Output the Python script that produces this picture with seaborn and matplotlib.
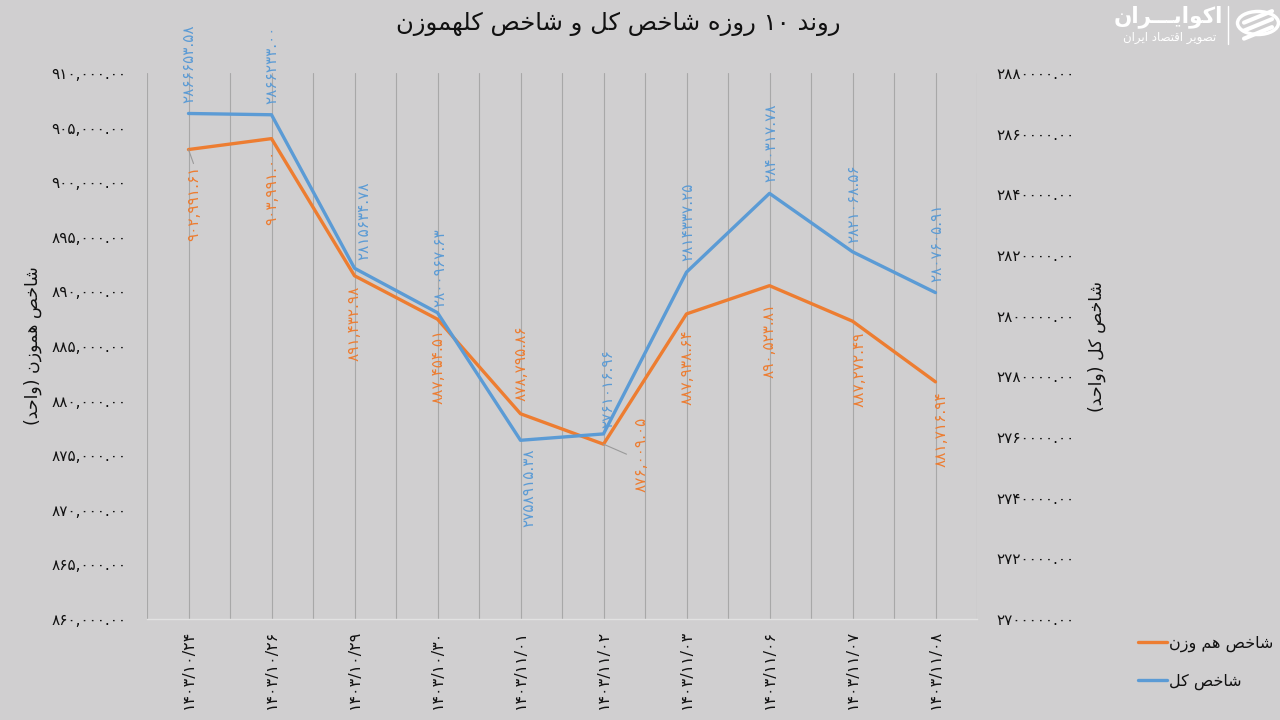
import re
import matplotlib
matplotlib.use("Agg")
import matplotlib.pyplot as plt
import matplotlib.lines as mlines
import matplotlib.patches as mpatches
import pandas as pd
import seaborn as sns

# ---------------- data ----------------
dates = ["1403/10/24", "1403/10/26", "1403/10/29", "1403/10/30", "1403/11/01",
         "1403/11/02", "1403/11/03", "1403/11/06", "1403/11/07", "1403/11/08"]
equal_weight = [902991.61, 903991.00, 891432.98, 887454.51, 878795.86,
                876009.05, 887938.64, 890523.81, 887272.49, 881716.94]
total_index = [2866653.58, 2866233.00, 2815634.78, 2800967.63, 2758915.38,
               2761016.96, 2814337.25, 2840317.78, 2821068.56, 2807605.91]
left_ticks = [860000, 865000, 870000, 875000, 880000, 885000, 890000, 895000, 900000, 905000, 910000]
right_ticks = [2700000, 2720000, 2740000, 2760000, 2780000, 2800000, 2820000, 2840000, 2860000, 2880000]

title_txt = "روند ۱۰ روزه شاخص کل و شاخص کلهموزن"
ylabel_left = "شاخص هموزن (واحد)"
ylabel_right = "شاخص کل (واحد)"
legend_eq = "شاخص هم وزن"
legend_total = "شاخص کل"
logo_main = "اکوایـــران"
logo_sub = "تصویر اقتصاد ایران"

# ---------------- simple Persian shaping ----------------
FORMS = {
    "ا": ("\uFE8D", "\uFE8E", None, None),
    "ب": ("\uFE8F", "\uFE90", "\uFE91", "\uFE92"),
    "پ": ("\uFB56", "\uFB57", "\uFB58", "\uFB59"),
    "ت": ("\uFE95", "\uFE96", "\uFE97", "\uFE98"),
    "ح": ("\uFEA1", "\uFEA2", "\uFEA3", "\uFEA4"),
    "خ": ("\uFEA5", "\uFEA6", "\uFEA7", "\uFEA8"),
    "د": ("\uFEA9", "\uFEAA", None, None),
    "ر": ("\uFEAD", "\uFEAE", None, None),
    "ز": ("\uFEAF", "\uFEB0", None, None),
    "ش": ("\uFEB5", "\uFEB6", "\uFEB7", "\uFEB8"),
    "ص": ("\uFEB9", "\uFEBA", "\uFEBB", "\uFEBC"),
    "ق": ("\uFED5", "\uFED6", "\uFED7", "\uFED8"),
    "ل": ("\uFEDD", "\uFEDE", "\uFEDF", "\uFEE0"),
    "م": ("\uFEE1", "\uFEE2", "\uFEE3", "\uFEE4"),
    "ن": ("\uFEE5", "\uFEE6", "\uFEE7", "\uFEE8"),
    "ه": ("\uFEE9", "\uFEEA", "\uFEEB", "\uFEEC"),
    "و": ("\uFEED", "\uFEEE", None, None),
    "ک": ("\uFB8E", "\uFB8F", "\uFB90", "\uFB91"),
    "ی": ("\uFBFC", "\uFBFD", "\uFBFE", "\uFBFF"),
}
TATWEEL = "\u0640"


def _joins_next(c):
    return c == TATWEEL or (c in FORMS and FORMS[c][2] is not None)


def _is_ar(c):
    return c == TATWEEL or c in FORMS


def shape(text):
    out = []
    n = len(text)
    for i, c in enumerate(text):
        if c not in FORMS:
            out.append(c)
            continue
        prev = text[i - 1] if i > 0 else ""
        nxt = text[i + 1] if i < n - 1 else ""
        pj = prev != "" and _joins_next(prev)
        nj = nxt != "" and _is_ar(nxt) and FORMS[c][2] is not None
        iso, fin, ini, med = FORMS[c]
        if pj and nj:
            out.append(med)
        elif pj:
            out.append(fin)
        elif nj:
            out.append(ini)
        else:
            out.append(iso)
    return "".join(out)


def rtl(text):
    s = shape(text)[::-1]
    s = re.sub(r"[0-9\u06F0-\u06F9][0-9\u06F0-\u06F9.,/]*", lambda m: m.group(0)[::-1], s)
    return s.translate(str.maketrans("()", ")("))


FA = str.maketrans("0123456789", "۰۱۲۳۴۵۶۷۸۹")


def fa(s):
    return s.translate(FA)


# ---------------- style ----------------
BG = "#d0cfd0"
ORANGE = "#ED7D31"
BLUE = "#5B9BD5"
GRID = "#a8a8a8"

sns.set_theme(style="white")
plt.rcParams["font.family"] = ["DejaVu Sans"]
plt.rcParams["axes.unicode_minus"] = False

df = pd.DataFrame({"pos": range(len(dates)), "eq": equal_weight, "tot": total_index})

fig = plt.figure(figsize=(12.8, 7.2), dpi=100, facecolor=BG)
ax = fig.add_axes([147 / 1280, 1 - 619 / 720, 830 / 1280, 546 / 720])
ax.set_facecolor(BG)
ax2 = ax.twinx()

sns.lineplot(data=df, x="pos", y="eq", ax=ax, color=ORANGE, lw=2.4, zorder=3)
sns.lineplot(data=df, x="pos", y="tot", ax=ax2, color=BLUE, lw=2.4, zorder=3)

ax.set_xlim(-0.5, len(dates) - 0.5)
ax.set_ylim(left_ticks[0], left_ticks[-1])
ax2.set_ylim(right_ticks[0], right_ticks[-1])

# vertical gridlines at centers and boundaries
for gx in [i * 0.5 - 0.5 for i in range(2 * len(dates) + 1)]:
    ax.axvline(gx, color=GRID, lw=0.8, zorder=0)

for a in (ax, ax2):
    for sp in a.spines.values():
        sp.set_visible(False)
ax.spines["bottom"].set_visible(True)
ax.spines["bottom"].set_color("#e2e2e2")
ax.spines["bottom"].set_linewidth(1.0)

ax.set_xticks(range(len(dates)))
ax.set_xticklabels([fa(d) for d in dates], rotation=90, fontsize=11.5, color="#111111")
ax.tick_params(axis="x", length=0, pad=8)

ax.set_yticks(left_ticks)
ax.set_yticklabels([fa(f"{v:,.2f}") for v in left_ticks], fontsize=11, color="#111111")
ax.tick_params(axis="y", length=0, pad=15)
ax2.set_yticks(right_ticks)
ax2.set_yticklabels([fa(f"{v:.2f}") for v in right_ticks], fontsize=11, color="#111111")
ax2.tick_params(axis="y", length=0, pad=14)
ax.set_xlabel("")
ax.set_ylabel("")
ax2.set_ylabel("")

# data labels: (dx_px, gap_px, side) ; side +1 above, -1 below
blue_pl = [(0, 10, 1), (0, 11, 1), (9, 8, 1), (2, 6, 1), (8, 8, -1),
           (4, 6, 1), (1, 11, 1), (1, 11, 1), (1, 9, 1), (1, 11, 1)]
orange_pl = [(5, 16, -1), (0, 11, -1), (0, 10, -1), (1, 10, -1), (1, 13, 1),
             (38, 0, 0), (1, 16, -1), (0, 17, -1), (7, 10, -1), (6, 10, -1)]
PT = 0.72
LBL = 11
for i, v in enumerate(total_index):
    dx, gap, side = blue_pl[i]
    ax2.annotate(fa(f"{v:.2f}"), (i, v), xytext=(dx * PT, side * gap * PT),
                 textcoords="offset points", rotation=90, ha="center",
                 va="bottom" if side > 0 else "top", fontsize=LBL, color=BLUE, zorder=5)
for i, v in enumerate(equal_weight):
    dx, gap, side = orange_pl[i]
    va = "bottom" if side > 0 else ("top" if side < 0 else "center")
    yoff = side * gap * PT if side != 0 else -10 * PT
    ax.annotate(fa(f"{v:,.2f}"), (i, v), xytext=(dx * PT, yoff),
                textcoords="offset points", rotation=90, ha="center", va=va,
                fontsize=LBL, color=ORANGE, zorder=5)
# leader lines
ax.annotate("", (5, equal_weight[5]), xytext=(23 * PT, -10 * PT), textcoords="offset points",
            arrowprops=dict(arrowstyle="-", color="#9a9a9a", lw=0.8, shrinkA=0, shrinkB=0))
ax.annotate("", (0, equal_weight[0]), xytext=(5 * PT, -14 * PT), textcoords="offset points",
            arrowprops=dict(arrowstyle="-", color="#9a9a9a", lw=0.8, shrinkA=0, shrinkB=0))

# titles / labels
fig.text(618 / 1280, 1 - 24 / 720, rtl(title_txt), ha="center", va="center", fontsize=17.5, color="#111111")
fig.text(33 / 1280, 1 - 346 / 720, rtl(ylabel_left), rotation=90, ha="center", va="center",
         fontsize=12.5, color="#111111")
fig.text(1097 / 1280, 1 - 346 / 720, rtl(ylabel_right), rotation=90, ha="center", va="center",
         fontsize=12.5, color="#111111")

# legend
handles = [mlines.Line2D([], [], color=ORANGE, lw=2.4, label=rtl(legend_eq)),
           mlines.Line2D([], [], color=BLUE, lw=2.4, label=rtl(legend_total))]
fig.legend(handles=handles, loc="upper left", bbox_to_anchor=(1132 / 1280, 1 - 629 / 720),
           frameon=False, fontsize=11.5, handlelength=1.8, handletextpad=0.1, labelspacing=1.35,
           borderaxespad=0.2, borderpad=0.2, labelcolor="#111111")

# logo
fig.text(1168 / 1280, 1 - 17 / 720, rtl(logo_main), ha="center", va="center", fontsize=15.5,
         color="white", fontweight="bold")
fig.text(1170 / 1280, 1 - 38 / 720, rtl(logo_sub), ha="center", va="center", fontsize=8.5,
         color="white")
fig.add_artist(mlines.Line2D([1228 / 1280, 1228 / 1280], [1 - 6 / 720, 1 - 44 / 720],
                             color="white", lw=1, transform=fig.transFigure))
fig.add_artist(mpatches.Circle((1258 / 1280, 1 - 23 / 720), 0.016, transform=fig.transFigure,
                               fill=False, ec="white", lw=2.5))
for k in range(3):
    y0 = 1 - (14 + k * 8) / 720
    fig.add_artist(mlines.Line2D([1244 / 1280, 1272 / 1280], [y0 - 0.012, y0 + 0.004],
                                 color="white", lw=3, transform=fig.transFigure))

fig.savefig("out.png", dpi=100, facecolor=BG)
